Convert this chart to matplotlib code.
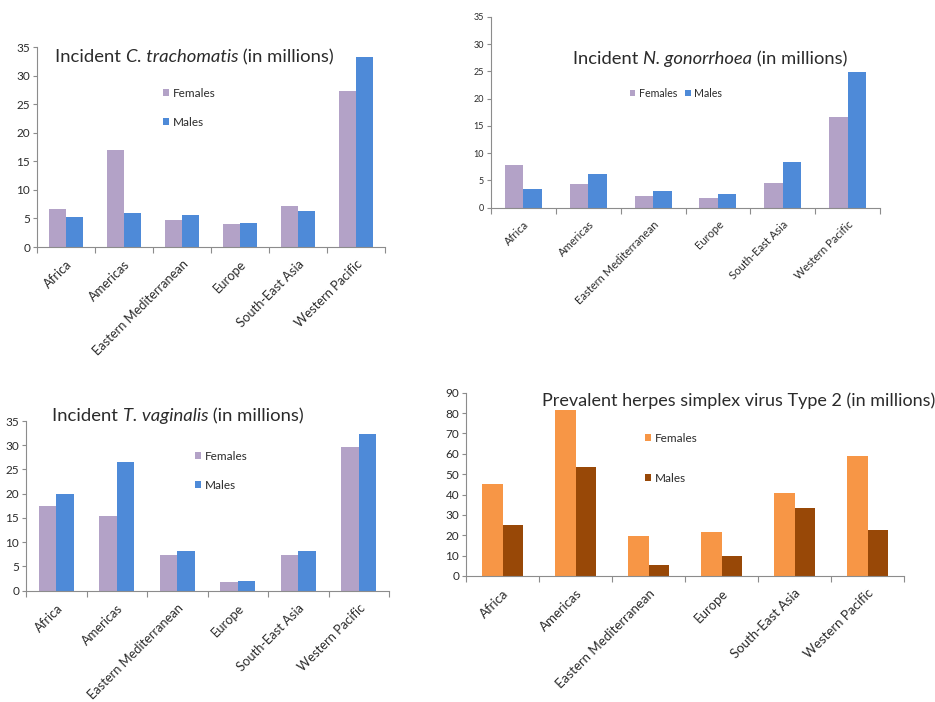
import matplotlib
matplotlib.use("Agg")
import matplotlib.pyplot as plt
import numpy as np

W, H = 935, 702
plt.rcParams['font.family'] = ['Lato', 'DejaVu Sans']

regions = ["Africa", "Americas", "Eastern Mediterranean", "Europe",
           "South-East Asia", "Western Pacific"]

chlamydia_f = [6.7, 16.9, 4.8, 4.0, 7.2, 27.3]
chlamydia_m = [5.2, 5.9, 5.6, 4.2, 6.3, 33.2]

gonorrhoea_f = [7.9, 4.4, 2.1, 1.8, 4.5, 16.7]
gonorrhoea_m = [3.5, 6.1, 3.0, 2.5, 8.4, 24.9]

trich_f = [17.5, 15.4, 7.3, 1.7, 7.3, 29.6]
trich_m = [19.9, 26.5, 8.2, 2.0, 8.2, 32.3]

hsv2_f = [45.2, 81.3, 19.5, 21.8, 40.9, 58.7]
hsv2_m = [25.2, 53.7, 5.4, 9.7, 33.5, 22.6]

LAVENDER = "#B3A2C7"
BLUE = "#4E8AD8"
ORANGE = "#F79646"
BROWN = "#984807"
AXIS = "#8C8C8C"
TXT = "#2B2B2B"

fig = plt.figure(figsize=(W / 100, H / 100), dpi=100)
renderer = fig.canvas.get_renderer()


def px_axes(left, top, right, bottom):
    return fig.add_axes([left / W, 1 - bottom / H, (right - left) / W, (bottom - top) / H])


def rich_text(x, y, parts, size):
    """Write a run of text pieces with mixed styles, starting at pixel (x, y)."""
    for s, style in parts:
        t = fig.text(x / W, 1 - y / H, s, fontsize=size, style=style,
                     ha="left", va="center", color=TXT)
        x += t.get_window_extent(renderer=renderer).width


def bar_panel(box, fem, mal, ymax, ystep, colors, tick_size, label_size):
    ax = px_axes(*box)
    x = np.arange(len(regions))
    w = 1 / 3.5
    bf = ax.bar(x - w / 2, fem, w, color=colors[0], label="Females", linewidth=0)
    bm = ax.bar(x + w / 2, mal, w, color=colors[1], label="Males", linewidth=0)
    ax.set_xlim(-0.5, len(regions) - 0.5)
    ax.set_ylim(0, ymax)
    ax.set_yticks(np.arange(0, ymax + 0.1, ystep))
    ax.tick_params(axis="y", direction="out", length=3, width=0.8, color=AXIS,
                   labelsize=tick_size, labelcolor=TXT, pad=2)
    ax.set_xticks(x)
    ax.set_xticklabels(regions, rotation=45, ha="right", rotation_mode="anchor",
                       fontsize=label_size, color=TXT)
    ax.tick_params(axis="x", which="major", length=0, pad=8)
    ax.set_xticks(np.arange(-0.5, len(regions)), minor=True)
    ax.tick_params(axis="x", which="minor", direction="out", length=4, width=0.8, color=AXIS)
    for side in ("top", "right"):
        ax.spines[side].set_visible(False)
    for side in ("left", "bottom"):
        ax.spines[side].set_color(AXIS)
        ax.spines[side].set_linewidth(0.8)
    return ax, bf, bm


def legend_at(ax, handles, x, y, size, ncol=1, spacing=1.3):
    leg = ax.legend(handles=handles, loc="upper left",
                    bbox_to_anchor=(x / W, 1 - y / H), bbox_transform=fig.transFigure,
                    frameon=False, fontsize=size, ncol=ncol,
                    handlelength=0.5, handleheight=0.5, handletextpad=0.3,
                    labelspacing=spacing, columnspacing=0.8, borderpad=0, borderaxespad=0)
    for t in leg.get_texts():
        t.set_color(TXT)
    return leg


# Incident C. trachomatis
ax1, f1, m1 = bar_panel((37, 47, 385, 247), chlamydia_f, chlamydia_m, 35, 5,
                        (LAVENDER, BLUE), 8.5, 9.3)
rich_text(55, 57, [("Incident ", "normal"), ("C. trachomatis", "italic"),
                   (" (in millions)", "normal")], 13.3)
legend_at(ax1, [f1, m1], 163, 88, 8.5, spacing=1.5)

# Incident N. gonorrhoea
ax2, f2, m2 = bar_panel((491, 17, 880, 207.7), gonorrhoea_f, gonorrhoea_m, 35, 5,
                        (LAVENDER, BLUE), 6.5, 8)
rich_text(573, 59, [("Incident ", "normal"), ("N. gonorrhoea", "italic"),
                    (" (in millions)", "normal")], 13.2)
legend_at(ax2, [f2, m2], 630, 88, 7.7, ncol=2)

# Incident T. vaginalis
ax3, f3, m3 = bar_panel((26, 421, 389, 590.7), trich_f, trich_m, 35, 5,
                        (LAVENDER, BLUE), 8.5, 9.3)
rich_text(52, 416, [("Incident ", "normal"), ("T. vaginalis", "italic"),
                    (" (in millions)", "normal")], 13.3)
legend_at(ax3, [f3, m3], 195, 451, 8.5, spacing=1.5)

# Prevalent HSV-2
ax4, f4, m4 = bar_panel((466, 392.7, 904, 576), hsv2_f, hsv2_m, 90, 10,
                        (ORANGE, BROWN), 8.5, 9.5)
rich_text(542, 401, [("Prevalent herpes simplex virus Type 2 (in millions)", "normal")], 13)
legend_at(ax4, [f4, m4], 645, 433, 8.5, spacing=2.45)

fig.savefig("out.png", dpi=100, facecolor="white")
